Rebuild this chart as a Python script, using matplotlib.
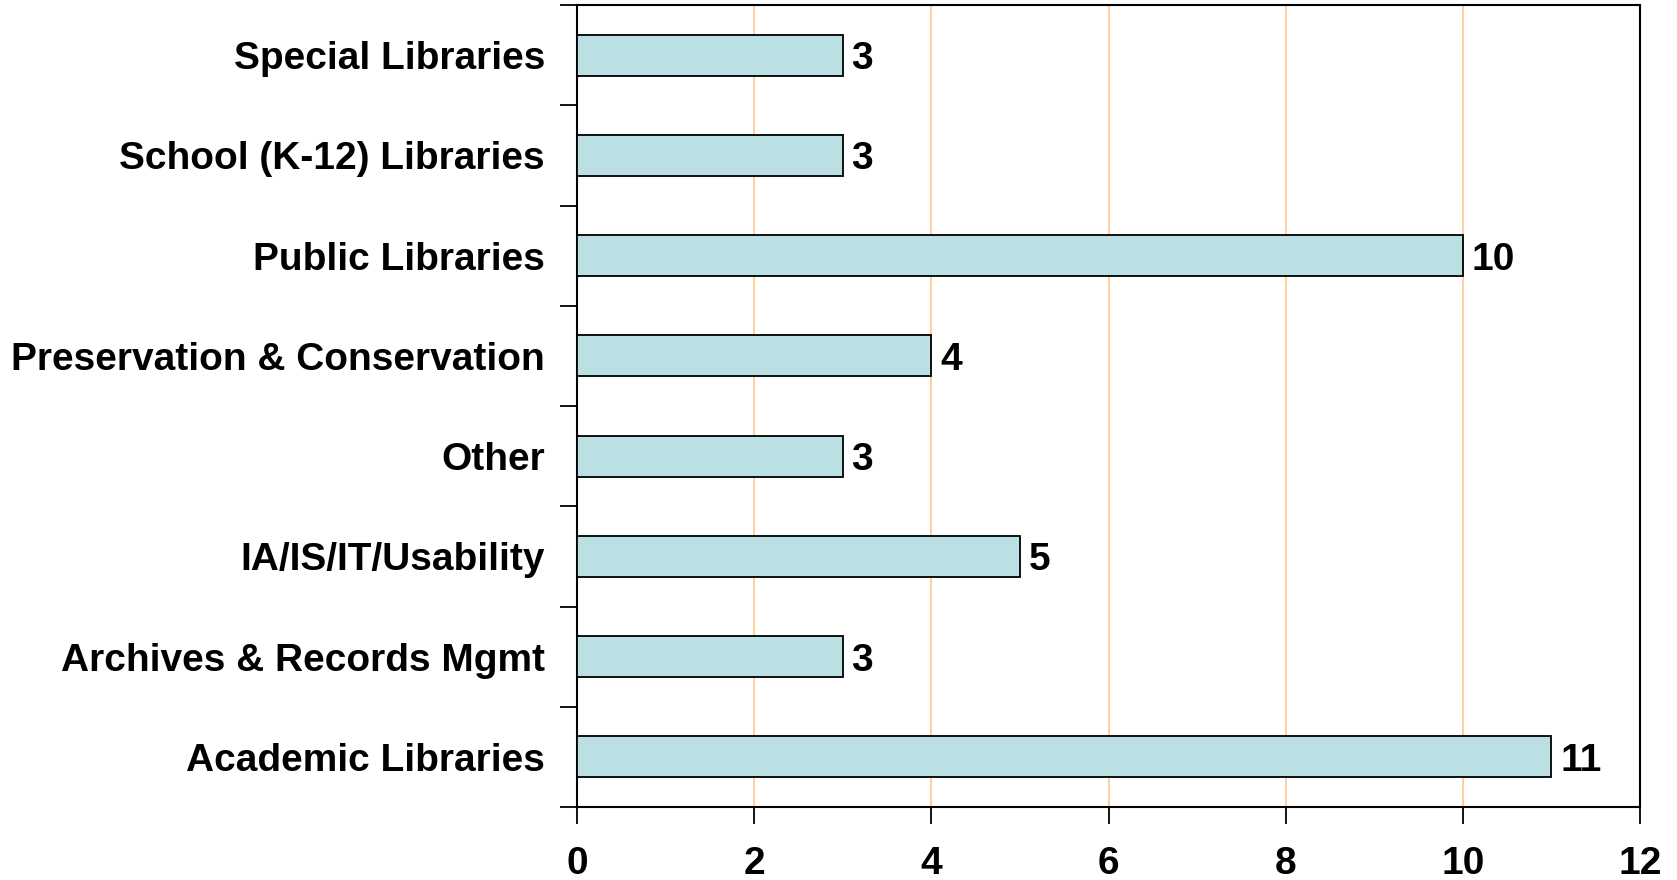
import matplotlib.pyplot as plt
import numpy as np

plt.rcParams['font.family'] = ['Liberation Sans', 'DejaVu Sans']
plt.rcParams['font.weight'] = 'bold'

categories = ['Academic Libraries', 'Archives & Records Mgmt', 'IA/IS/IT/Usability', 'Other',
              'Preservation & Conservation', 'Public Libraries', 'School (K-12) Libraries',
              'Special Libraries']
counts = [11, 3, 5, 3, 4, 10, 3, 3]
xticks = [0, 2, 4, 6, 8, 10, 12]

fig = plt.figure(figsize=(16.77, 8.8), dpi=100)
ax = fig.add_axes([577/1677, 1 - 807/880, (1640-577)/1677, (807-5)/880])

y = np.arange(len(categories))
ax.barh(y, counts, height=0.41, color='#BAE0E3', edgecolor='black', linewidth=1.3, zorder=3)
for yi, c in zip(y, counts):
    ax.text(c + 0.1, yi, str(c), va='center_baseline', ha='left', fontsize=28, fontweight='bold')

ax.set_xlim(0, 12)
ax.set_ylim(-0.5, len(categories) - 0.5)
ax.set_xticks(xticks)
ax.set_xticklabels([str(t) for t in xticks], fontsize=28, fontweight='bold')
ax.xaxis.grid(True, color='#FFC896', linewidth=1.3, zorder=0)
ax.set_axisbelow(True)

ax.set_yticks(y)
ax.set_yticklabels(categories, fontsize=28, fontweight='bold', va='center_baseline')
ax.tick_params(axis='y', length=0, pad=23)
ax.set_yticks(np.arange(-0.5, len(categories)), minor=True)
ax.tick_params(axis='y', which='minor', length=12, width=1.3, direction='out')
ax.tick_params(axis='x', length=12, width=1.3, direction='out', pad=16)
for s in ax.spines.values():
    s.set_linewidth(1.5)

fig.savefig('out.png', dpi=100)
